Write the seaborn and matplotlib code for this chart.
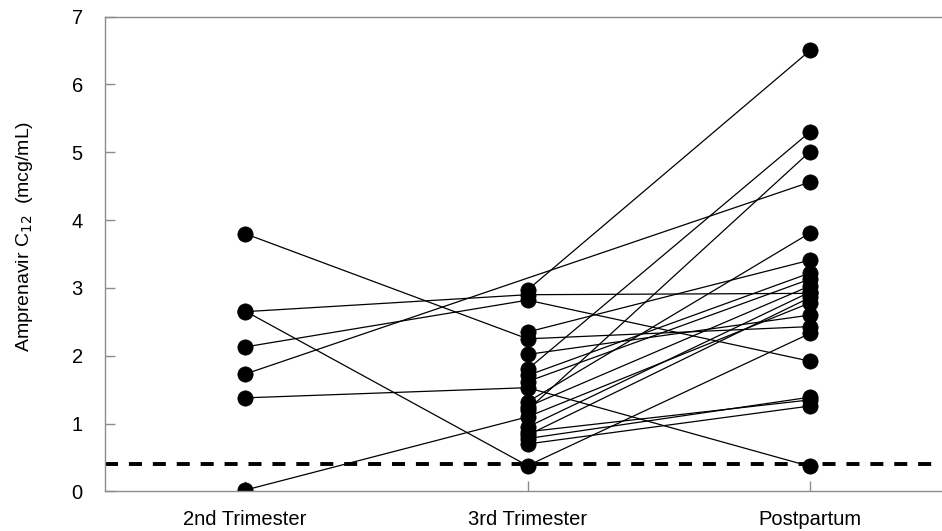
import numpy as np
import pandas as pd
import seaborn as sns
import matplotlib
matplotlib.use("Agg")
import matplotlib.pyplot as plt

# visits on the x axis
visits = ["2nd Trimester", "3rd Trimester", "Postpartum"]

# C12 per subject at each visit (nan = no sample)
trim2 = [3.80, 2.65, 2.66, 2.13, 1.73, 1.38, 0.02,
         np.nan, np.nan, np.nan, np.nan, np.nan, np.nan, np.nan,
         np.nan, np.nan, np.nan, np.nan, np.nan, np.nan, np.nan]
trim3 = [2.25, 2.90, 0.38, 2.82, np.nan, 1.53, 1.10,
         2.97, 2.35, 2.02, 1.80, 1.71, 1.62, 1.32,
         1.20, 1.25, 0.95, 0.83, 0.78, 0.70, 0.88]
post = [2.43, 2.92, 2.33, 1.92, 4.56, 0.37, 2.78,
        6.50, 3.41, 2.60, 5.30, 3.22, 3.13, 3.81,
        5.01, 3.03, 2.94, 2.86, 1.39, 1.26, 1.35]

lloq = 0.41

rows = []
for s in range(len(trim3)):
    for i, v in enumerate([trim2[s], trim3[s], post[s]]):
        rows.append({"subject": s, "visit": i, "c12": v})
df = pd.DataFrame(rows).dropna()

sns.set_style("white")
plt.rcParams['font.family'] = ['Liberation Sans', 'DejaVu Sans']
plt.rcParams['text.color'] = 'black'
plt.rcParams['axes.labelcolor'] = 'black'

fig = plt.figure(figsize=(9.42, 5.31), dpi=100)
ax = fig.add_axes([0.1115, 0.0744, 0.8885, 0.8945])

sns.lineplot(data=df, x="visit", y="c12", units="subject", estimator=None,
             color="black", linewidth=0.9, marker="o", markersize=11,
             markeredgecolor="black", markeredgewidth=0.5, ax=ax, legend=False)

ax.axhline(lloq, color="black", linewidth=2.8, dashes=(3.35, 2.8), zorder=1)

ax.set_xlim(-0.4956, 2.467)
ax.set_ylim(0, 7)
ax.set_xticks(range(len(visits)))
ax.set_xticklabels(visits)
ax.set_yticks(range(0, 8))
ax.set_xlabel("")
ax.set_ylabel("Amprenavir C$_{12}$  (mcg/mL)", fontsize=14)
ax.yaxis.set_label_coords(-0.084, 0.537)

for sp in ["left", "bottom", "top"]:
    ax.spines[sp].set_color("#8c8c8c")
    ax.spines[sp].set_linewidth(1.0)
ax.spines["right"].set_visible(False)

ax.tick_params(axis="both", direction="in", length=7, width=1.0,
               color="#8c8c8c", labelcolor="black", labelsize=14.5)
ax.tick_params(axis="x", pad=13, bottom=True)
ax.tick_params(axis="y", pad=16, left=True)

fig.savefig("out.png", dpi=100)
